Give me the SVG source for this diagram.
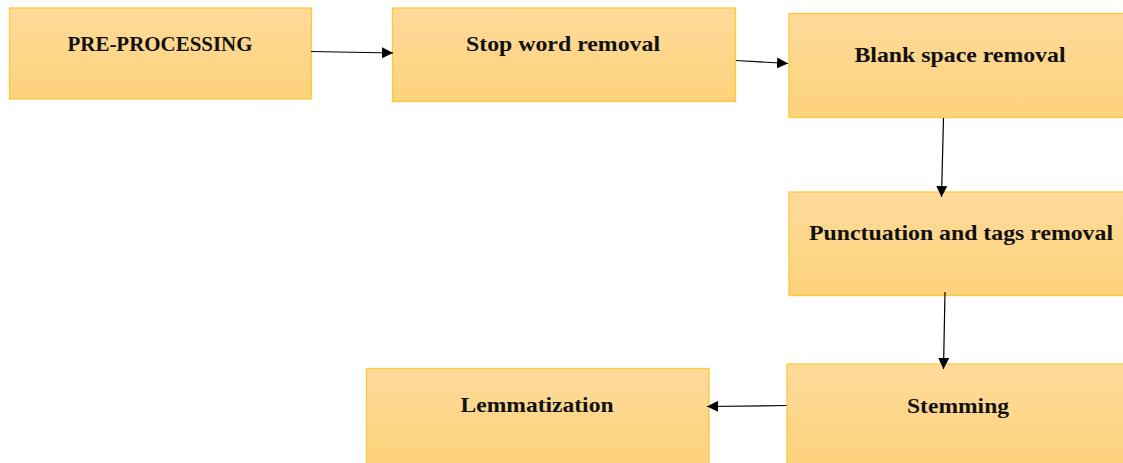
<svg xmlns="http://www.w3.org/2000/svg" width="1123" height="463" viewBox="0 0 1123 463">
<defs>
<linearGradient id="g" x1="0" y1="0" x2="0" y2="1">
<stop offset="0" stop-color="#FEDB9B"/>
<stop offset="1" stop-color="#FDD27B"/>
</linearGradient>
<marker id="arr" viewBox="0 0 10 10" refX="10" refY="5" markerWidth="11" markerHeight="11" markerUnits="userSpaceOnUse" orient="auto">
<path d="M0,0 L10,5 L0,10 Z" fill="#000"/>
</marker>
</defs>
<style>
rect{fill:url(#g);stroke:#FFC73A;stroke-width:1.3}
text{font-family:"Liberation Serif","Times New Roman",serif;font-weight:bold;font-size:21.5px;fill:#111;text-anchor:middle}
.c{stroke:#000;stroke-width:1.2;fill:none;marker-end:url(#arr)}
</style>
<rect width="1123" height="463" fill="#fff" style="fill:#fff;stroke:none"/>
<g id="n1"><rect x="9.5" y="8" width="302" height="91"/><text x="160" y="51" textLength="185" lengthAdjust="spacingAndGlyphs">PRE-PROCESSING</text></g>
<g id="n2"><rect x="392.5" y="8" width="343" height="93.5"/><text x="563" y="51" textLength="194" lengthAdjust="spacingAndGlyphs">Stop word removal</text></g>
<g id="n3"><rect x="789" y="13.5" width="340" height="104"/><text x="960" y="62" textLength="211" lengthAdjust="spacingAndGlyphs">Blank space removal</text></g>
<g id="n4"><rect x="789" y="192" width="340" height="103.5"/><text x="961" y="240" textLength="304" lengthAdjust="spacingAndGlyphs">Punctuation and tags removal</text></g>
<g id="n5"><rect x="787" y="364" width="340" height="104"/><text x="958" y="413" textLength="102" lengthAdjust="spacingAndGlyphs">Stemming</text></g>
<g id="n6"><rect x="366.5" y="368.5" width="342.5" height="97"/><text x="537" y="412" textLength="153" lengthAdjust="spacingAndGlyphs">Lemmatization</text></g>
<g id="connectors">
<path class="c" d="M311,51.5 L393,53"/>
<path class="c" d="M736,60.5 L788,63.5"/>
<path class="c" d="M943.5,118 L941.5,197"/>
<path class="c" d="M945,292 L943.5,369"/>
<path class="c" d="M786.5,405.5 L707,406.5"/>
</g>
</svg>
